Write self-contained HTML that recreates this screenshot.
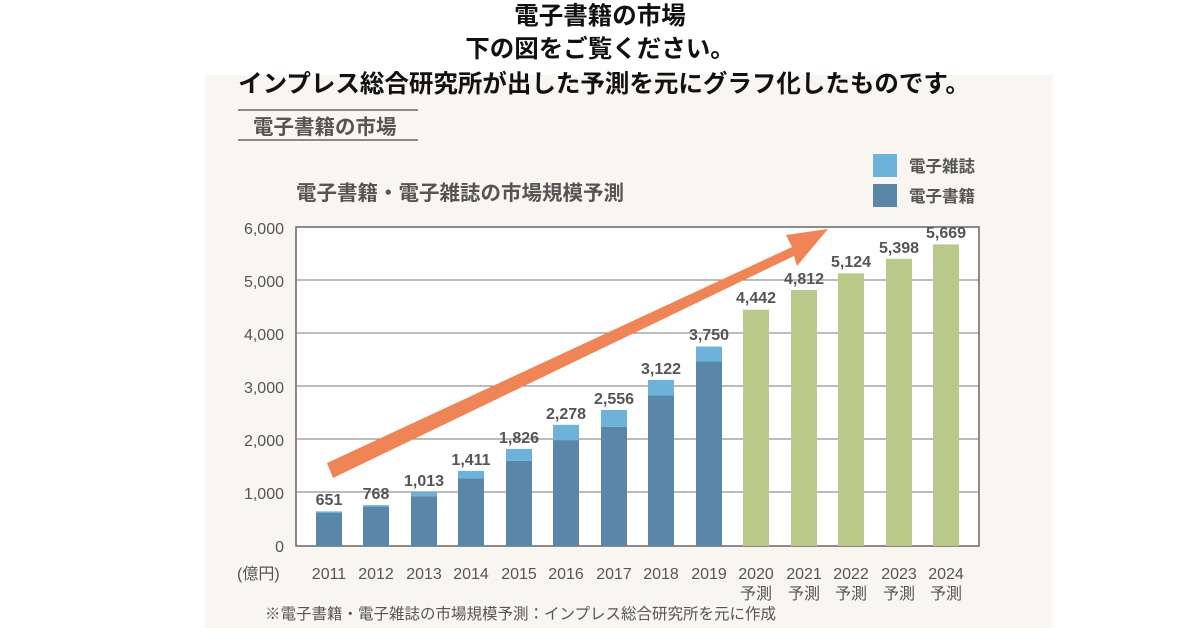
<!DOCTYPE html>
<html><head><meta charset="utf-8"><style>
html,body{margin:0;padding:0;background:#fff;}
svg{display:block}
text{font-family:"Liberation Sans","Noto Sans CJK JP",sans-serif;}
</style></head><body>
<svg width="1200" height="628" viewBox="0 0 1200 628" xmlns="http://www.w3.org/2000/svg">
<rect x="205" y="75" width="848" height="553" fill="#f9f6f1"/>
<g font-family="Noto Sans CJK JP, sans-serif" font-weight="bold" font-size="24.5" fill="#111" text-anchor="middle">
<text x="600" y="24">電子書籍の市場</text>
<text x="600" y="57">下の図をご覧ください。</text>
<text x="604" y="92">インプレス総合研究所が出した予測を元にグラフ化したものです。</text>
</g>
<line x1="238" y1="110" x2="418" y2="110" stroke="#666" stroke-width="1.5"/>
<line x1="238" y1="140" x2="418" y2="140" stroke="#666" stroke-width="1.5"/>
<text x="253" y="134" font-size="20.5" font-weight="bold" fill="#555">電子書籍の市場</text>
<text x="296" y="200" font-size="20.5" font-weight="bold" fill="#555">電子書籍・電子雑誌の市場規模予測</text>
<rect x="873" y="154" width="24" height="23" fill="#6db3d9"/>
<rect x="873" y="184" width="24" height="23" fill="#5a87a8"/>
<text x="909" y="172" font-size="16.5" font-weight="bold" fill="#555">電子雑誌</text>
<text x="909" y="202" font-size="16.5" font-weight="bold" fill="#555">電子書籍</text>
<rect x="296" y="227" width="683" height="319" fill="#fff" stroke="#666" stroke-width="1.5"/>
<g stroke="#777" stroke-width="1">
<line x1="296" y1="280" x2="979" y2="280"/><line x1="296" y1="333" x2="979" y2="333"/>
<line x1="296" y1="386" x2="979" y2="386"/><line x1="296" y1="439" x2="979" y2="439"/>
<line x1="296" y1="492" x2="979" y2="492"/>
</g>
<g font-size="16" fill="#555" text-anchor="end">
<text x="284" y="234">6,000</text><text x="284" y="287">5,000</text><text x="284" y="340">4,000</text>
<text x="284" y="393">3,000</text><text x="284" y="446">2,000</text><text x="284" y="499">1,000</text>
<text x="284" y="552">0</text>
</g>
<text x="237" y="579" font-size="16" fill="#555">(億円)</text>
<g font-size="16" fill="#555" text-anchor="middle">
<text x="329" y="579">2011</text><text x="376" y="579">2012</text><text x="424" y="579">2013</text>
<text x="471" y="579">2014</text><text x="519" y="579">2015</text><text x="566" y="579">2016</text>
<text x="614" y="579">2017</text><text x="661" y="579">2018</text><text x="709" y="579">2019</text>
<text x="756" y="579">2020</text><text x="804" y="579">2021</text><text x="851" y="579">2022</text>
<text x="899" y="579">2023</text><text x="946" y="579">2024</text>
<text x="756" y="599">予測</text><text x="804" y="599">予測</text><text x="851" y="599">予測</text>
<text x="899" y="599">予測</text><text x="946" y="599">予測</text>
</g>
<text x="265" y="619" font-size="15.5" fill="#555">※電子書籍・電子雑誌の市場規模予測：インプレス総合研究所を元に作成</text>
<g>
<rect x="316" y="513" width="26" height="33" fill="#5a87a8"/><rect x="316" y="511.4" width="26" height="1.6" fill="#6db3d9"/>
<rect x="363" y="506.6" width="26" height="39.4" fill="#5a87a8"/><rect x="363" y="505.1" width="26" height="1.5" fill="#6db3d9"/>
<rect x="411" y="496.5" width="26" height="49.5" fill="#5a87a8"/><rect x="411" y="492.1" width="26" height="4.4" fill="#6db3d9"/>
<rect x="458" y="478.4" width="26" height="67.6" fill="#5a87a8"/><rect x="458" y="470.9" width="26" height="7.5" fill="#6db3d9"/>
<rect x="506" y="460.9" width="26" height="85.1" fill="#5a87a8"/><rect x="506" y="448.9" width="26" height="12" fill="#6db3d9"/>
<rect x="553" y="440.1" width="26" height="105.9" fill="#5a87a8"/><rect x="553" y="424.8" width="26" height="15.3" fill="#6db3d9"/>
<rect x="601" y="426.8" width="26" height="119.2" fill="#5a87a8"/><rect x="601" y="410" width="26" height="16.8" fill="#6db3d9"/>
<rect x="648" y="395.4" width="26" height="150.6" fill="#5a87a8"/><rect x="648" y="379.9" width="26" height="15.5" fill="#6db3d9"/>
<rect x="696" y="361.4" width="26" height="184.6" fill="#5a87a8"/><rect x="696" y="346.5" width="26" height="14.9" fill="#6db3d9"/>
<rect x="743" y="309.7" width="26" height="236.3" fill="#b8c98a"/>
<rect x="791" y="290" width="26" height="256" fill="#b8c98a"/>
<rect x="838" y="273.4" width="26" height="272.6" fill="#b8c98a"/>
<rect x="886" y="258.8" width="26" height="287.2" fill="#b8c98a"/>
<rect x="933" y="244.4" width="26" height="301.6" fill="#b8c98a"/>
</g>
<g font-size="16" font-weight="bold" fill="#555" text-anchor="middle">
<text x="329" y="505">651</text><text x="376" y="499">768</text><text x="424" y="486">1,013</text>
<text x="471" y="465">1,411</text><text x="519" y="443">1,826</text><text x="566" y="419">2,278</text>
<text x="614" y="404">2,556</text><text x="661" y="374">3,122</text><text x="709" y="340">3,750</text>
<text x="756" y="303">4,442</text><text x="804" y="284">4,812</text><text x="851" y="267">5,124</text>
<text x="899" y="253">5,398</text><text x="946" y="238">5,669</text>
</g>
<polygon points="327,463 792,247 786,235 828,229 797,266 794,256 333,478" fill="#ef8456"/>
</svg>
</body></html>
